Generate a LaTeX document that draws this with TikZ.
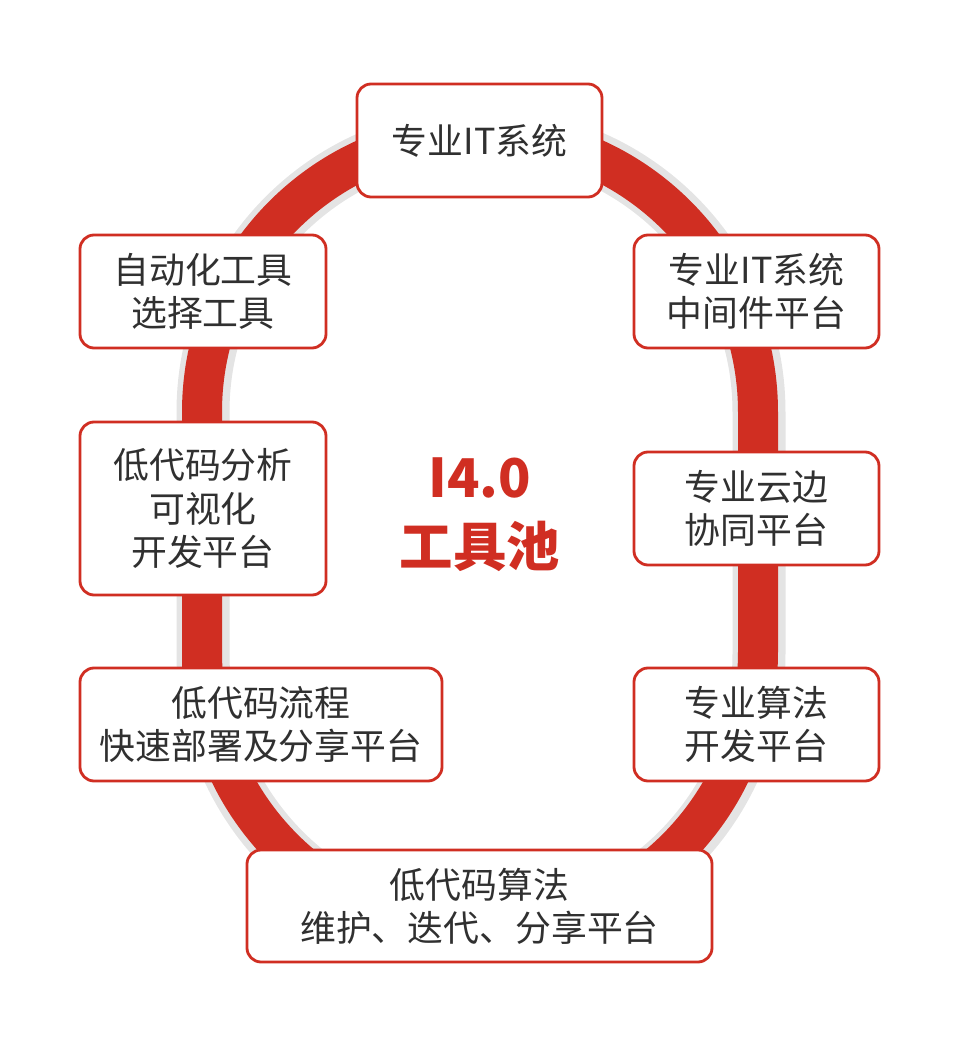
\documentclass[tikz,border=0pt]{standalone}
\usepackage{fontspec}
\setmainfont{Noto Sans CJK SC}
\usepackage{xcolor}
\usepackage{tikz}
\usetikzlibrary{positioning, calc}
\definecolor{ringred}{RGB}{208,46,34}
\definecolor{ringgray}{RGB}{228,228,228}
\definecolor{txtdark}{RGB}{48,48,48}
\tikzset{
  toolbox/.style={rectangle, draw=ringred, fill=white, line width=0.8pt,
    rounded corners=4pt, align=center, text=txtdark,
    font=\fontsize{10.2pt}{12.3pt}\selectfont, inner sep=0pt},
  ring/.style={line width=0.40cm, color=ringred},
  ringshadow/.style={line width=0.53cm, color=ringgray}
}
\begin{document}
\begin{tikzpicture}
  \useasboundingbox (0,0) rectangle (9.6,10.47);

  % Ring (shadow, then band)
  \draw[ringshadow] (2.03,3.93) -- (2.03,6.35) arc[start angle=180, end angle=0, radius=2.78]
    -- (7.59,3.93) arc[start angle=0, end angle=-180, radius=2.78] -- cycle;
  \draw[ring] (2.02,3.95) -- (2.02,6.35) arc[start angle=180, end angle=0, radius=2.78]
    -- (7.58,3.95) arc[start angle=0, end angle=-180, radius=2.78] -- cycle;

  % Centre title
  \node[text=ringred, font=\fontsize{15.2pt}{19.6pt}\selectfont\bfseries, align=center]
    (title) at (4.80,5.32) {I4.0\\工具池};

  % Tool boxes
  \node[toolbox, minimum width=2.45cm, minimum height=1.13cm] (itsys) at (4.795,9.065) {专业IT系统};
  \node[toolbox, minimum width=2.46cm, minimum height=1.13cm] (autotool) at (2.03,7.555) {自动化工具\\选择工具};
  \node[toolbox, minimum width=2.45cm, minimum height=1.13cm] (middleware) at (7.565,7.555) {专业IT系统\\中间件平台};
  \node[toolbox, minimum width=2.46cm, minimum height=1.73cm] (lcanalysis) at (2.03,5.385) {低代码分析\\可视化\\开发平台};
  \node[toolbox, minimum width=2.45cm, minimum height=1.13cm] (cloudedge) at (7.565,5.385) {专业云边\\协同平台};
  \node[toolbox, minimum width=3.62cm, minimum height=1.13cm] (lcflow) at (2.61,3.225) {低代码流程\\快速部署及分享平台};
  \node[toolbox, minimum width=2.45cm, minimum height=1.13cm] (algodev) at (7.565,3.225) {专业算法\\开发平台};
  \node[toolbox, minimum width=4.65cm, minimum height=1.12cm] (lcalgo) at (4.795,1.41) {低代码算法\\维护、迭代、分享平台};
\end{tikzpicture}
\end{document}
